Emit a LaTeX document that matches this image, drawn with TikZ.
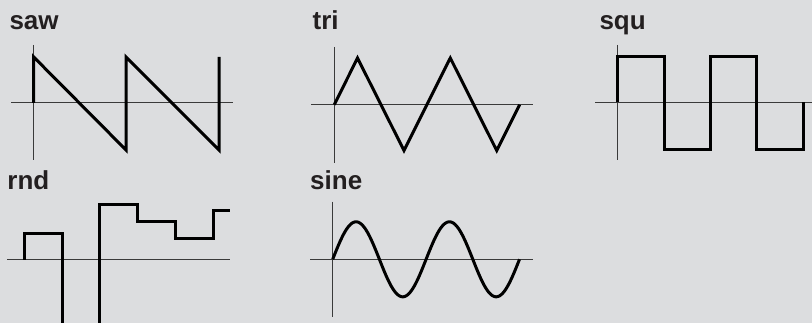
\documentclass[tikz,border=0pt]{standalone}
\usepackage{fontspec}
\setmainfont{Liberation Sans}
\definecolor{bg}{HTML}{DCDDDF}
\definecolor{ink}{HTML}{231F20}
\definecolor{axisc}{HTML}{3A3A3A}
\begin{document}
\begin{tikzpicture}[x=1pt,y=-1pt,
  lbl/.style={anchor=base west,inner sep=0pt,font=\fontsize{26}{28}\selectfont\bfseries,text=ink},
  axisline/.style={draw=axisc,line width=1pt},
  wave/.style={draw=black,line width=3pt,line join=miter,line cap=butt}]
\fill[bg] (0,0) rectangle (812,323);
\useasboundingbox (0,0) rectangle (812,323);
% labels
\node[lbl] (lsaw) at (9.3,30) {saw};
\node[lbl] (ltri) at (312.5,30) {tri};
\node[lbl] (lsqu) at (599.3,30) {squ};
\node[lbl] (lrnd) at (7.3,190) {rnd};
\node[lbl] (lsine) at (310,190) {sine};
% saw
\draw[axisline] (33.7,45) -- (33.7,160);
\draw[axisline] (11,103) -- (233,103);
\draw[wave] (33.7,103) -- (33.7,57) -- (126,150) -- (126,57) -- (219,150) -- (219,57);
% tri
\draw[axisline] (334.3,47) -- (334.3,163);
\draw[axisline] (311,104.7) -- (533,104.7);
\draw[wave] (334.3,104.7) -- (357.5,58) -- (404,150.5) -- (450.3,58) -- (496.7,150.5) -- (519.7,104.7);
% squ
\draw[axisline] (617.7,45) -- (617.7,160);
\draw[axisline] (595,102.3) -- (812,102.3);
\draw[wave] (617.7,102.3) -- (617.7,56.7) -- (664.3,56.7) -- (664.3,149.3) -- (710.5,149.3) -- (710.5,56.7) -- (756.7,56.7) -- (756.7,149.3) -- (803,149.3) -- (803,102.3);
% rnd
\draw[axisline] (7,259.7) -- (230,259.7);
\draw[wave] (24,259.7) -- (24,233.3) -- (62,233.3) -- (62,330);
\draw[wave] (99,330) -- (99,205) -- (137.7,205) -- (137.7,222) -- (175.7,222) -- (175.7,238.3) -- (213.3,238.3) -- (213.3,211) -- (230,211);
% sine
\draw[axisline] (332.7,201.7) -- (332.7,316.7);
\draw[axisline] (310,259.3) -- (532.7,259.3);
\draw[wave,line join=round] plot[domain=0:720,samples=181,smooth] ({332.7+\x/360*93.4},{259.3-37.5*sin(\x)});
\end{tikzpicture}
\end{document}
